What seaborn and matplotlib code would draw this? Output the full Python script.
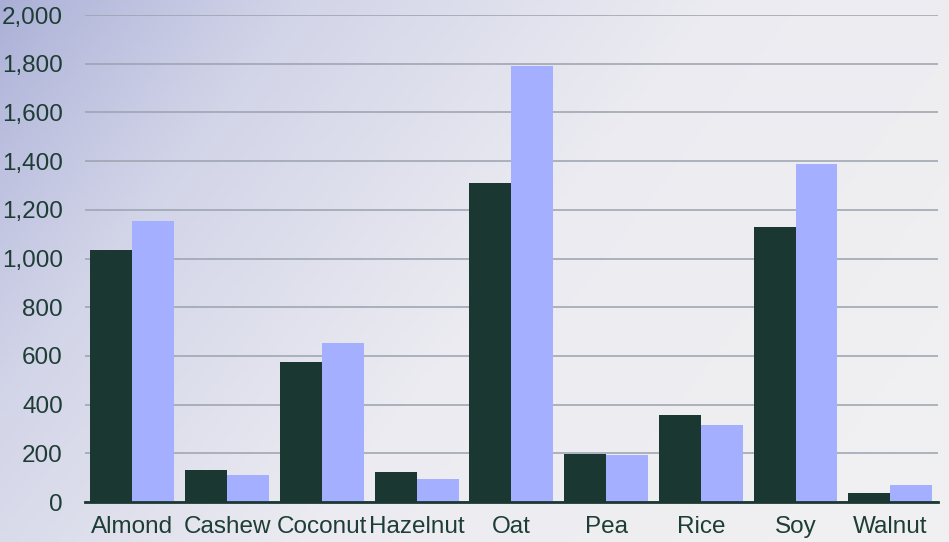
import matplotlib
matplotlib.use("Agg")
import matplotlib.pyplot as plt
import matplotlib.ticker as mticker
from matplotlib.colors import LinearSegmentedColormap
import numpy as np
import pandas as pd
import seaborn as sns

categories = ["Almond", "Cashew", "Coconut", "Hazelnut", "Oat", "Pea", "Rice", "Soy", "Walnut"]
series_a = [1035, 131, 575, 123, 1309, 197, 357, 1131, 38]
series_b = [1154, 111, 653, 94, 1792, 193, 316, 1388, 70]
series_names = ["Series A", "Series B"]
y_ticks = list(range(0, 2001, 200))

dark = "#1a3831"
light = "#a4b0ff"
text_color = "#1d3d35"

df = pd.DataFrame({
    "category": categories * 2,
    "value": series_a + series_b,
    "series": [series_names[0]] * len(categories) + [series_names[1]] * len(categories),
})

sns.set_theme(style="white")
plt.rcParams["font.family"] = ["Liberation Sans", "DejaVu Sans"]

fig = plt.figure(figsize=(9.49, 5.42), dpi=100)

# background gradient across the whole figure
bg_ax = fig.add_axes([0, 0, 1, 1], zorder=0)
xx, yy = np.meshgrid(np.linspace(0, 1, 300), np.linspace(0, 1, 200))
t = np.clip(0.8 * xx + 0.35 * yy, 0, 1) ** 0.8
cmap = LinearSegmentedColormap.from_list("bg", ["#a9aed6", "#d2d4e8", "#ebebf1", "#f0f0f2"])
bg_ax.imshow(t, cmap=cmap, aspect="auto", extent=[0, 1, 0, 1], origin="upper")
bg_ax.axis("off")

ax = fig.add_axes([0.0896, 0.0738, 0.8984, 0.8985], zorder=1)
ax.patch.set_alpha(0)
sns.barplot(
    data=df, x="category", y="value", hue="series",
    palette=[dark, light], width=0.885, gap=0, ax=ax,
    saturation=1, legend=False, errorbar=None, linewidth=0,
)
ax.set_ylim(0, 2000)
ax.set_xlim(-0.5, len(categories) - 0.5)
ax.set_yticks(y_ticks)
ax.yaxis.set_major_formatter(mticker.StrMethodFormatter("{x:,.0f}"))
ax.grid(axis="y", color="#9aa2ae", linewidth=1.1)
ax.set_axisbelow(True)
for s in ["top", "right", "left"]:
    ax.spines[s].set_visible(False)
ax.spines["bottom"].set_color(dark)
ax.spines["bottom"].set_linewidth(2)
ax.spines["bottom"].set_zorder(5)
ax.tick_params(axis="y", length=0, pad=16, labelsize=17.5, labelcolor=text_color)
ax.tick_params(axis="x", length=0, pad=10, labelsize=17.5, labelcolor=text_color)
ax.set_xlabel("")
ax.set_ylabel("")

fig.savefig("out.png", dpi=100)
